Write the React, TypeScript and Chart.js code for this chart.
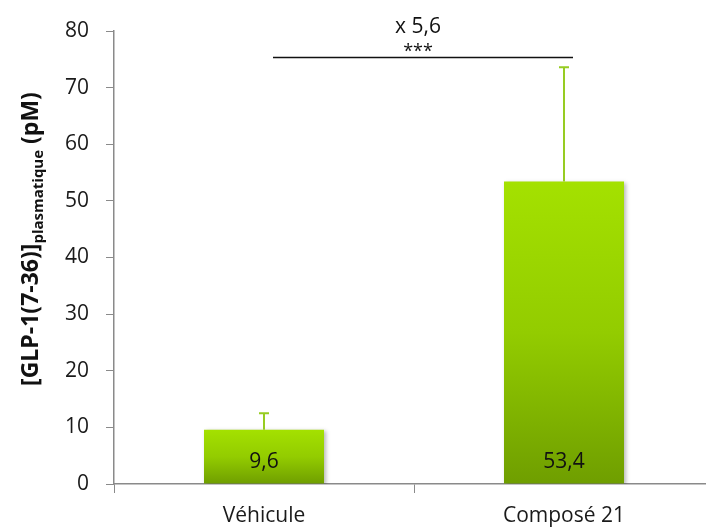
import React, { useEffect, useRef } from "react";
import { Chart, registerables } from "chart.js";

Chart.register(...registerables);

const categories = ["Véhicule", "Composé 21"];
const means = [9.6, 53.4];
const errorsUp = [2.9, 20.2];
const valueLabels = ["9,6", "53,4"];
const yTicks = [0, 10, 20, 30, 40, 50, 60, 70, 80];
const foldText = "x 5,6";
const sigText = "***";
const sigValue = 75.4;

const FONT = "'Open Sans', 'Liberation Sans', sans-serif";

const extrasPlugin = {
  id: "extras",
  beforeDatasetDraw(chart: any) {
    const ctx = chart.ctx;
    ctx.save();
    ctx.shadowColor = "rgba(0,0,0,0.28)";
    ctx.shadowBlur = 4;
    ctx.shadowOffsetX = 2;
    ctx.shadowOffsetY = 1;
  },
  afterDatasetDraw(chart: any) {
    chart.ctx.restore();
  },
  afterDatasetsDraw(chart: any) {
    const ctx = chart.ctx;
    const meta = chart.getDatasetMeta(0);
    const y = chart.scales.y;
    ctx.save();
    meta.data.forEach((bar: any, i: number) => {
      const top = y.getPixelForValue(means[i] + errorsUp[i]);
      ctx.strokeStyle = "#97cc22";
      ctx.lineWidth = 2;
      ctx.beginPath();
      ctx.moveTo(bar.x, bar.y);
      ctx.lineTo(bar.x, top);
      ctx.moveTo(bar.x - 5, top);
      ctx.lineTo(bar.x + 5, top);
      ctx.stroke();
      ctx.fillStyle = "#111";
      ctx.font = `21px ${FONT}`;
      ctx.textAlign = "center";
      ctx.textBaseline = "middle";
      ctx.fillText(valueLabels[i], bar.x, y.getPixelForValue(0) - 22);
    });
    const b0 = meta.data[0];
    const b1 = meta.data[1];
    const ly = Math.round(y.getPixelForValue(sigValue)) + 0.5;
    ctx.strokeStyle = "#111";
    ctx.lineWidth = 1.5;
    ctx.beginPath();
    ctx.moveTo(b0.x + 9, ly);
    ctx.lineTo(b1.x + 9, ly);
    ctx.stroke();
    const cx = (b0.x + b1.x) / 2 + 4;
    ctx.fillStyle = "#111";
    ctx.textAlign = "center";
    ctx.textBaseline = "alphabetic";
    ctx.font = `21px ${FONT}`;
    ctx.fillText(foldText, cx, ly - 25);
    ctx.font = `18px ${FONT}`;
    ctx.fillText(sigText, cx, ly - 1);
    ctx.restore();

    ctx.save();
    const main1 = "[GLP-1(7-36)]";
    const sub = "plasmatique";
    const main2 = " (pM)";
    const bigF = `bold 23px ${FONT}`;
    const smallF = `bold 15px ${FONT}`;
    ctx.font = bigF;
    const w1 = ctx.measureText(main1).width;
    const w3 = ctx.measureText(main2).width;
    ctx.font = smallF;
    const w2 = ctx.measureText(sub).width;
    const total = w1 + w2 + w3;
    const centerY = 239;
    ctx.translate(38, centerY);
    ctx.rotate(-Math.PI / 2);
    ctx.fillStyle = "#111";
    ctx.textAlign = "left";
    ctx.textBaseline = "alphabetic";
    let x = -total / 2;
    ctx.font = bigF;
    ctx.fillText(main1, x, 0);
    x += w1;
    ctx.font = smallF;
    ctx.fillText(sub, x, 5);
    x += w2;
    ctx.font = bigF;
    ctx.fillText(main2, x, 0);
    ctx.restore();
  },
};

export default function App() {
  const canvasRef = useRef<HTMLCanvasElement | null>(null);

  useEffect(() => {
    const canvas = canvasRef.current;
    if (!canvas) return;
    const chart = new Chart(canvas, {
      type: "bar",
      data: {
        labels: categories,
        datasets: [
          {
            data: means,
            backgroundColor: (c: any) => {
              const ch = c.chart;
              if (!ch.chartArea || !ch.scales.y) return "#8cc400";
              const ys = ch.scales.y;
              const v = c.raw ?? 0;
              const top = ys.getPixelForValue(v);
              const bottom = ys.getPixelForValue(0);
              const g = ch.ctx.createLinearGradient(0, top, 0, bottom);
              g.addColorStop(0, "#a4e100");
              g.addColorStop(0.5, "#93cc00");
              g.addColorStop(1, "#6f9e00");
              return g;
            },
            borderWidth: 0,
            barPercentage: 0.4,
            categoryPercentage: 1,
          },
        ],
      },
      options: {
        animation: false,
        responsive: false,
        layout: { padding: { top: 31, left: 0, right: 0, bottom: 0 } },
        plugins: {
          legend: { display: false },
          tooltip: { enabled: false },
          title: { display: false },
        },
        scales: {
          x: {
            offset: true,
            grid: {
              offset: true,
              drawOnChartArea: false,
              drawTicks: true,
              tickLength: 9,
              color: "#8a8a8a",
              lineWidth: 1,
            },
            border: { color: "#8a8a8a", width: 1.5 },
            ticks: {
              color: "#1a1a1a",
              font: { family: FONT, size: 21 },
              padding: 10,
              maxRotation: 0,
            },
            afterFit: (s: any) => {
              s.height = 45;
            },
          },
          y: {
            min: 0,
            max: 80,
            afterBuildTicks: (s: any) => {
              s.ticks = yTicks.map((v) => ({ value: v }));
            },
            grid: {
              drawOnChartArea: false,
              drawTicks: true,
              tickLength: 8,
              color: "#8a8a8a",
              lineWidth: 1,
            },
            border: { color: "#8a8a8a", width: 1.5 },
            ticks: {
              color: "#1a1a1a",
              font: { family: FONT, size: 21 },
              padding: 17,
            },
            afterFit: (s: any) => {
              s.width = 114;
            },
          },
        },
      },
      plugins: [extrasPlugin],
    });
    return () => chart.destroy();
  }, []);

  return (
    <div
      style={{
        position: "fixed",
        left: 0,
        top: 0,
        width: 706,
        height: 529,
        overflow: "hidden",
        background: "#fff",
      }}
    >
      <canvas ref={canvasRef} width={714} height={529} style={{ display: "block" }} />
    </div>
  );
}
